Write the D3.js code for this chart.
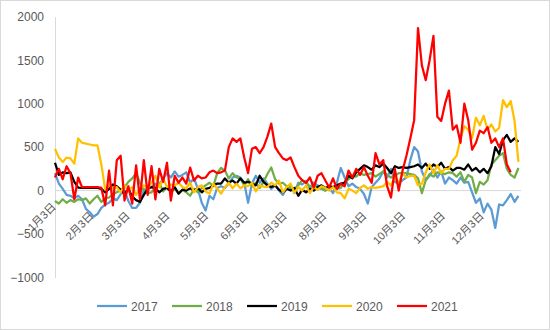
<!DOCTYPE html>
<html>
<head>
<meta charset="utf-8">
<script src="https://cdn.jsdelivr.net/npm/d3@7"></script>
<style>
  html, body { margin: 0; padding: 0; background: #fff; }
  svg { display: block; }
  text { font-family: "Liberation Sans", Arial, "Noto Sans CJK SC", sans-serif; fill: #595959; }
</style>
</head>
<body>
<svg id="chart" width="550" height="330"></svg>
<script>
// Sampling dates: every third day from 3 Jan to the end of December
const dates = d3.timeDay.range(new Date(2021, 0, 3), new Date(2022, 0, 1), 3);

// Month tick labels and their dates
const tickLabels = ["1月3日", "2月3日", "3月3日", "4月3日", "5月3日", "6月3日",
                    "7月3日", "8月3日", "9月3日", "10月3日", "11月3日", "12月3日"];
const tickDates = tickLabels.map((_, m) => new Date(2021, m, 3));

const yTicks = [-1000, -500, 0, 500, 1000, 1500, 2000];
const years = ["2017", "2018", "2019", "2020", "2021"];
const colors = ["#5B9BD5", "#70AD47", "#000000", "#FFC000", "#FF0000"];

const v2017 = [200, 80, 20, -50, -60, -90, -60, -100, -210, -250, -300, -270, -200, -160, -140, -90,
  -110, -40, 0, -120, -200, -200, -140, 10, 30, 40, 80, 60, 140, 200, 150, 220, 160, 180, 210, 90,
  140, 20, -140, -230, -60, -100, 30, 50, 30, 80, 150, 170, 150, 90, -140, 80, 170, 90, 140, 80,
  20, 60, 0, -50, 30, 60, -30, 90, 70, 110, 20, 90, 60, 20, 0, 30, -30, 90, 260, 150, 50, 80,
  40, 20, -40, -150, 40, 90, 140, 220, 150, 250, 100, 80, 120, 150, 350, 500, 450, 220, 120, 170,
  240, 150, 220, 80, 150, 120, 80, 150, 90, 100, -20, -140, -90, -250, -150, -220, -430, -160,
  -170, -110, -40, -130, -60];

const v2018 = [-120, -150, -100, -140, -110, -130, -100, -110, -90, -150, -100, -60, -130, -90, -80,
  -40, -20, 0, 40, 100, 140, 200, 90, 0, -30, -20, 40, 90, -10, 40, -20, 20, -35, 10, -20, -60,
  20, -20, 30, 60, 90, 50, 200, 260, 230, 140, 200, 150, 140, 60, 130, 50, 90, 30, 100, 190, 265,
  130, 80, 90, 50, 30, 20, 60, 120, 90, 50, 60, 30, 20, 0, 20, 40, 20, 30, 100, 130, 170, 160,
  200, 180, 190, 200, 160, 190, 220, 180, 150, 170, 200, 200, 200, 190, 180, 140, -30, 120, 190,
  160, 210, 200, 190, 210, 200, 160, 210, 100, 180, 150, -30, 100, 70, 120, 300, 350, 400, 430,
  250, 180, 150, 260];

const v2019 = [320, 180, 210, 200, 210, 100, 35, 30, 30, 30, 30, 30, 20, -20, 20, 70, 50, 10, -40,
  20, -70, -110, -130, -50, 20, 40, 25, -20, 20, 30, -10, 40, -35, 10, 0, 25, 0, 30, -20, 20, 30,
  60, 80, 80, 140, 90, 115, 80, 140, 90, 100, 80, 60, 170, 100, 60, 40, 60, 10, -20, 20, 0, 30,
  -60, 10, -20, 20, 0, 40, 60, 30, 50, 40, 60, 80, 90, 170, 140, 210, 250, 290, 270, 240, 290,
  270, 310, 260, 200, 280, 260, 270, 260, 270, 280, 300, 260, 310, 250, 300, 270, 320, 250, 270,
  230, 260, 260, 240, 300, 230, 260, 210, 250, 200, 280, 500, 420, 580, 640, 560, 600, 560];

const v2020 = [480, 380, 330, 380, 370, 310, 600, 550, 540, 530, 520, 520, 300, 10, 60, 25, 40, -20,
  60, 0, 40, -50, 30, 60, 20, 90, 170, 35, 140, 40, 70, 60, 90, 40, 25, 90, -20, 40, 60, -10, -35,
  80, 20, -35, 40, 90, 25, 80, 25, 60, 50, 90, -10, 60, 45, 40, 90, 60, 115, -20, 40, 80, -25, 40,
  0, 60, -30, 40, 10, 50, 30, 0, 40, -20, -30, -90, 20, 0, -30, 30, 60, 20, 40, 30, 40, 50, 100,
  60, 150, 80, 200, 150, 170, 170, 60, 80, 210, 300, 200, 290, 200, 250, 250, 350, 400, 600, 740,
  700, 600, 840, 750, 860, 700, 760, 680, 720, 1040, 960, 1030, 800, 330];

const v2021 = [150, 250, 130, 280, 200, -100, 150, 40, 40, 40, 40, 40, 30, -170, 230, -170, 350, 400,
  -115, 50, -150, 290, -100, 350, -50, 280, -100, 250, 100, 320, -115, 170, 90, 150, 80, 265, 115,
  170, 140, 150, 210, 230, 200, 210, 230, 500, 600, 560, 600, 380, 200, 480, 500, 430, 500, 620,
  770, 500, 430, 370, 350, 380, 270, 170, 120, 90, 150, 35, 170, 200, 115, 35, 140, 20, 80, 50,
  230, 150, 250, 180, 270, 170, 90, 430, 300, 350, 50, -80, 250, 0, 230, 400, 600, 810, 1870, 1440,
  1270, 1500, 1780, 850, 800, 1000, 1150, 700, 750, 550, 1000, 810, 470, 550, 690, 660, 730, 550,
  600, 500, 600, 300, 210, null, null];

const seriesValues = [v2017, v2018, v2019, v2020, v2021];

const svg = d3.select("#chart");

// Chart area frame
svg.append("rect")
  .attr("x", 0.5).attr("y", 0.5).attr("width", 549).attr("height", 329)
  .attr("fill", "#fff").attr("stroke", "#d9d9d9");

const x = d3.scaleTime()
  .domain([new Date(2021, 0, 3), new Date(2021, 11, 31)])
  .range([55, 521]);
const y = d3.scaleLinear().domain([-1000, 2000]).range([277.5, 16.7]);

// Value axis
const yAxis = svg.append("g").attr("transform", "translate(55,0)")
  .call(d3.axisLeft(y).tickValues(yTicks).tickSize(0).tickPadding(11).tickFormat(d3.format("d")));
yAxis.select(".domain").attr("stroke", "#d9d9d9");
yAxis.selectAll("text").style("font-size", "12px").attr("fill", "#595959");

// Zero line
svg.append("line")
  .attr("x1", 55).attr("x2", 521)
  .attr("y1", y(0)).attr("y2", y(0))
  .attr("stroke", "#d9d9d9").attr("stroke-width", 1);

// Series lines
const line = d3.line()
  .defined(d => d.v !== null)
  .x(d => x(d.date))
  .y(d => y(d.v));

seriesValues.forEach((vals, k) => {
  const pts = dates.map((date, i) => ({ date, v: vals[i] === undefined ? null : vals[i] }));
  svg.append("path")
    .datum(pts)
    .attr("fill", "none")
    .attr("stroke", colors[k])
    .attr("stroke-width", 2.25)
    .attr("stroke-linejoin", "round")
    .attr("d", line);
});

// Category axis labels, sitting next to the zero line; the first one is
// nudged up so it stays inside the chart area
const xAxis = svg.append("g").attr("transform", `translate(0,${y(0)})`)
  .call(d3.axisBottom(x).tickValues(tickDates).tickSize(0)
    .tickFormat((d, i) => tickLabels[i]));
xAxis.select(".domain").remove();
xAxis.selectAll("text")
  .style("font-size", "11px")
  .attr("fill", "#595959")
  .attr("text-anchor", "end")
  .attr("dy", null)
  .attr("y", 0)
  .attr("transform", (d, i) => i === 0 ? "translate(1,17) rotate(-45)" : "translate(-1,26) rotate(-45)");

// Legend
const legend = svg.append("g");
years.forEach((yr, k) => {
  const lx = 97 + k * 75;
  legend.append("line")
    .attr("x1", lx).attr("x2", lx + 30)
    .attr("y1", 306).attr("y2", 306)
    .attr("stroke", colors[k]).attr("stroke-width", 2.25);
  legend.append("text")
    .attr("x", lx + 34).attr("y", 310.5)
    .style("font-size", "12px")
    .attr("fill", "#595959")
    .text(yr);
});
</script>
</body>
</html>
